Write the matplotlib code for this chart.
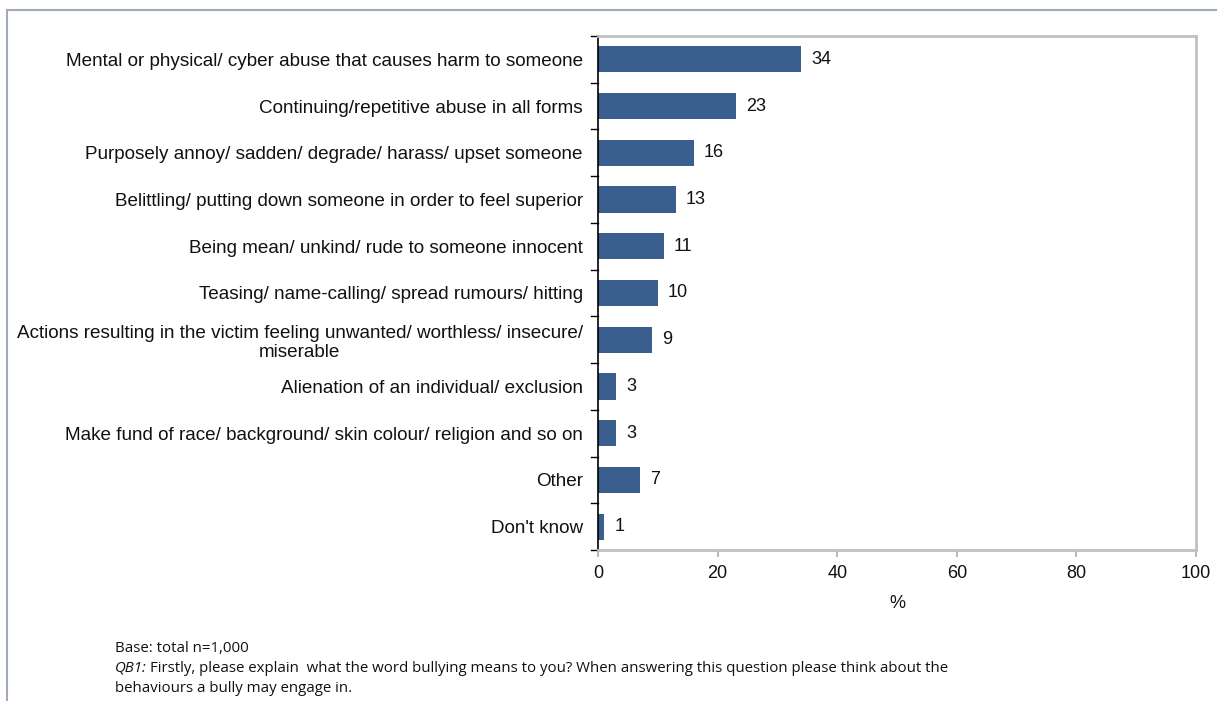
import matplotlib
matplotlib.use("Agg")
import matplotlib.pyplot as plt
from matplotlib.lines import Line2D

categories = [
    "Mental or physical/ cyber abuse that causes harm to someone",
    "Continuing/repetitive abuse in all forms",
    "Purposely annoy/ sadden/ degrade/ harass/ upset someone",
    "Belittling/ putting down someone in order to feel superior",
    "Being mean/ unkind/ rude to someone innocent",
    "Teasing/ name-calling/ spread rumours/ hitting",
    "Actions resulting in the victim feeling unwanted/ worthless/ insecure/\nmiserable",
    "Alienation of an individual/ exclusion",
    "Make fund of race/ background/ skin colour/ religion and so on",
    "Other",
    "Don't know",
]
values = [34, 23, 16, 13, 11, 10, 9, 3, 3, 7, 1]
xticks = [0, 20, 40, 60, 80, 100]

plt.rcParams['font.family'] = ['Liberation Sans', 'DejaVu Sans']

fig = plt.figure(figsize=(12.17, 7.01), dpi=100)
ax = fig.add_axes([598/1217, 1-550/701, (1196-598)/1217, (550-36)/701])

n = len(categories)
ypos = list(range(n))
ax.barh(ypos, values, height=0.56, color="#3A5F8F")
ax.set_ylim(n - 0.5, -0.5)
ax.set_xlim(0, 100)

for y, v in zip(ypos, values):
    ax.text(v + 1.7, y, str(v), va="center", ha="left", fontsize=13, color="#111111")

ax.set_yticks(ypos)
ax.set_yticklabels(categories, fontsize=13.6, color="#111111", linespacing=1.15,
                   multialignment="center")
ax.tick_params(axis="y", length=0, pad=11)
for b in [i - 0.5 for i in range(n + 1)]:
    ax.plot([-0.012, 0], [b, b], transform=ax.get_yaxis_transform(), color="black", lw=1, clip_on=False)

ax.set_xticks(xticks)
ax.set_xticklabels([str(t) for t in xticks], fontsize=13, color="#111111")
ax.tick_params(axis="x", length=5, color="#BBBBBB", width=1.5, pad=6)
ax.set_xlabel("%", fontsize=13, labelpad=9, color="#111111")

ax.spines["left"].set_color("black")
ax.spines["left"].set_linewidth(1.2)
for s in ["top", "right", "bottom"]:
    ax.spines[s].set_color("#C0C0C0")
    ax.spines[s].set_linewidth(2)

fig.add_artist(Line2D([7/1217, 1], [1-10/701, 1-10/701], color="#A0AAB8", lw=1.5))
fig.add_artist(Line2D([7/1217, 7/1217], [0, 1-10/701], color="#A0AAB8", lw=1.5))

fn = ['Open Sans', 'DejaVu Sans']
fs = 10.8
fig.text(115/1217, 1-648/701, "Base: total n=1,000", fontsize=fs, family=fn, va="center", color="#111111")
fig.text(115/1217, 1-668/701, "QB1:", fontsize=fs, family=fn, style="italic", va="center", color="#111111")
fig.text(150/1217, 1-668/701, "Firstly, please explain  what the word bullying means to you? When answering this question please think about the",
         fontsize=fs, family=fn, va="center", color="#111111")
fig.text(115/1217, 1-688/701, "behaviours a bully may engage in.", fontsize=fs, family=fn, va="center", color="#111111")

fig.savefig("out.png", dpi=100)
